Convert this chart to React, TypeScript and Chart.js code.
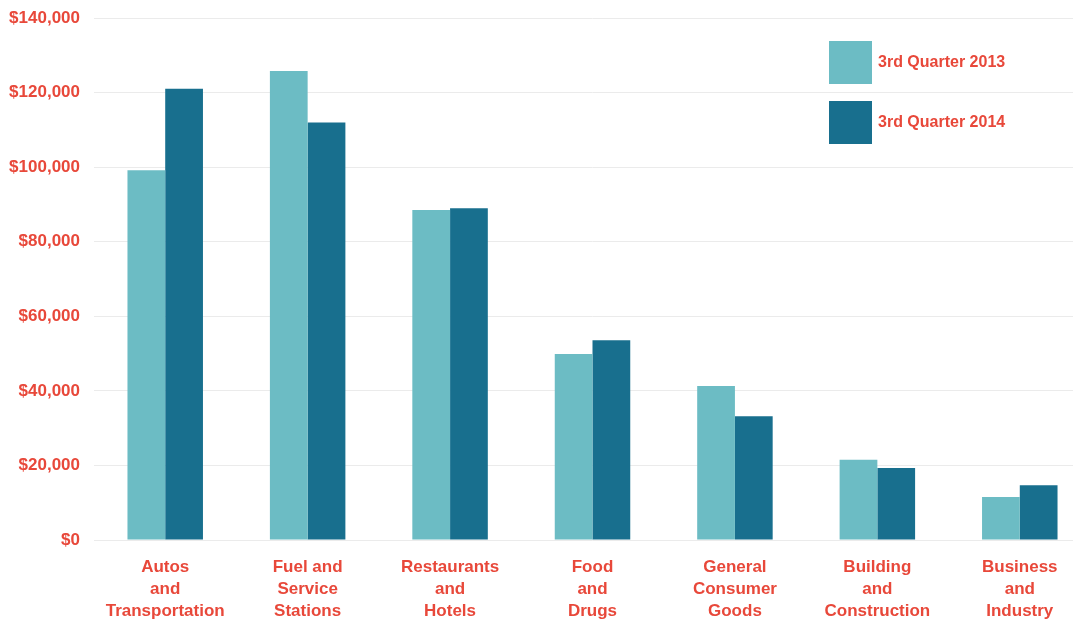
import React, { useEffect, useRef } from "react";
import { Chart, registerables } from "chart.js";

Chart.register(...registerables);

const categories: string[][] = [
  ["Autos", "and", "Transportation"],
  ["Fuel and", "Service", "Stations"],
  ["Restaurants", "and", "Hotels"],
  ["Food", "and", "Drugs"],
  ["General", "Consumer", "Goods"],
  ["Building", "and", "Construction"],
  ["Business", "and", "Industry"],
];
const seriesNames = ["3rd Quarter 2013", "3rd Quarter 2014"];
const q3_2013 = [99200, 125800, 88500, 49900, 41300, 21500, 11500];
const q3_2014 = [121000, 112000, 89000, 53600, 33200, 19300, 14700];
const yTicksMax = 140000;
const yTickStep = 20000;

const RED = "#E8483A";
const LIGHT = "#6CBCC4";
const DARK = "#186F8E";
const FONT = "'Liberation Sans Narrow', 'Liberation Sans', Arial, sans-serif";

const legendPlugin = {
  id: "customLegend",
  afterDraw(chart: any) {
    const ctx = chart.ctx;
    ctx.save();
    const x = 829;
    const ys = [41, 101];
    chart.data.datasets.forEach((ds: any, i: number) => {
      ctx.fillStyle = ds.backgroundColor;
      ctx.fillRect(x, ys[i], 43, 43);
      ctx.fillStyle = RED;
      ctx.font = `bold 16px ${FONT}`;
      ctx.textBaseline = "middle";
      ctx.textAlign = "left";
      ctx.fillText(ds.label, x + 49, ys[i] + 22);
    });
    ctx.restore();
  },
};

export default function App() {
  const ref = useRef<HTMLCanvasElement>(null);
  useEffect(() => {
    if (!ref.current) return;
    const chart = new Chart(ref.current, {
      type: "bar",
      data: {
        labels: categories,
        datasets: [
          { label: seriesNames[0], data: q3_2013, backgroundColor: LIGHT },
          { label: seriesNames[1], data: q3_2014, backgroundColor: DARK },
        ],
      },
      options: {
        responsive: false,
        animation: false,
        layout: { padding: { top: 18, right: 0, left: 0, bottom: 0 } },
        plugins: { legend: { display: false }, tooltip: { enabled: false } },
        datasets: { bar: { categoryPercentage: 0.53, barPercentage: 1.0 } },
        scales: {
          x: {
            grid: { display: false },
            border: { display: false },
            ticks: {
              color: RED,
              font: { family: FONT, size: 17, weight: "bold", lineHeight: 1.3 },
              padding: 8,
              maxRotation: 0,
              autoSkip: false,
            },
            afterFit: (s: any) => {
              s.height = 82;
              s.paddingLeft = 0;
              s.paddingRight = 0;
            },
          },
          y: {
            min: 0,
            max: yTicksMax,
            border: { display: false },
            grid: { color: "#ebebeb", drawTicks: false, lineWidth: 1 },
            ticks: {
              stepSize: yTickStep,
              color: RED,
              font: { family: FONT, size: 17, weight: "bold" },
              padding: 14,
              callback: (v: any) => "$" + Number(v).toLocaleString("en-US"),
            },
            afterFit: (s: any) => {
              s.width = 94;
              s.paddingTop = 0;
              s.paddingBottom = 0;
            },
          },
        },
      },
      plugins: [legendPlugin],
    });
    return () => chart.destroy();
  }, []);
  return (
    <div
      style={{
        position: "fixed",
        left: 0,
        top: 0,
        width: 1073,
        height: 622,
        overflow: "hidden",
        background: "#fff",
      }}
    >
      <canvas ref={ref} width={1091} height={622} style={{ display: "block" }} />
    </div>
  );
}
